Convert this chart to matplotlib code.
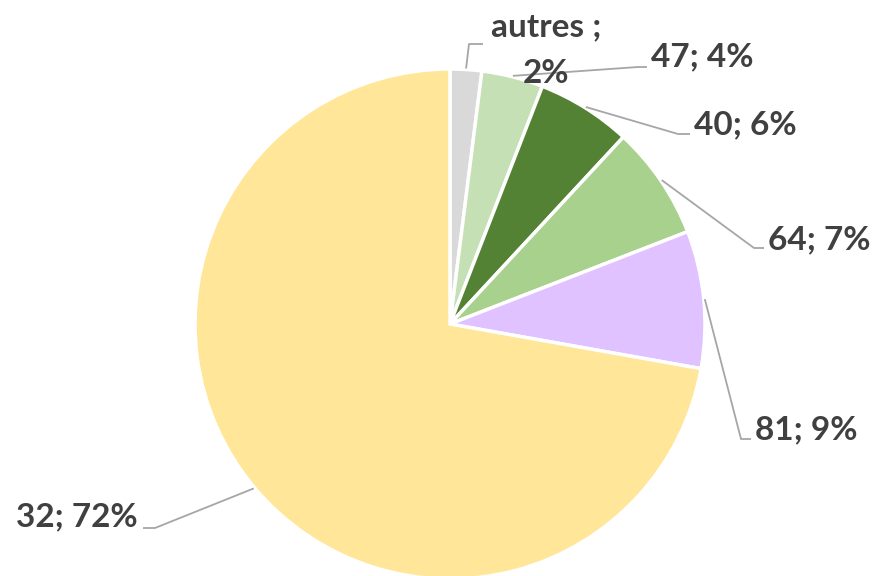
import matplotlib
matplotlib.use("Agg")
import matplotlib.pyplot as plt
import numpy as np

# data (shares) and labels
categories = ["autres", "47", "40", "64", "81", "32"]
shares = [2.0, 3.9, 6.0, 7.2, 8.7, 72.2]
label_texts = ["autres ;\n2%", "47; 4%", "40; 6%", "64; 7%", "81; 9%", "32; 72%"]
colors = ["#D9D9D9", "#C5E0B4", "#548235", "#A9D18E", "#DFC2FF", "#FFE699"]

W, H = 879, 576
fig = plt.figure(figsize=(W / 100, H / 100), dpi=100)
ax = fig.add_axes([0, 0, 1, 1])

cx, cy, R = 450, H - 324, 255
wedges, _ = ax.pie(shares, colors=colors, startangle=90, counterclock=False,
                   center=(cx, cy), radius=R, frame=True,
                   wedgeprops=dict(edgecolor="white", linewidth=2.5))
ax.set_xlim(0, W)
ax.set_ylim(0, H)
ax.set_aspect("equal")
ax.axis("off")

# label layout: (elbow x, elbow y, end x, text x, text y, ha, linespacing)
layout = [
    (469, 44, 483, 546, 50, "center", 1.75),
    (638, 67, 647, 651, 57, "left", 1.2),
    (678, 134, 690, 694, 125, "left", 1.2),
    (754, 248, 764, 768, 240, "left", 1.2),
    (741, 439, 751, 755, 430, "left", 1.2),
    (155, 528, 143, 138, 517, "right", 1.2),
]

for w, txt, (ex, ey, endx, tx, ty, ha, ls) in zip(wedges, label_texts, layout):
    mid = np.deg2rad((w.theta1 + w.theta2) / 2)
    sx = cx + (R + 1) * np.cos(mid)
    sy = cy + (R + 1) * np.sin(mid)
    ax.plot([sx, ex, endx], [sy, H - ey, H - ey], color="#A6A6A6", lw=1.3,
            solid_capstyle="butt")
    ax.text(tx, H - ty, txt, ha=ha, va="center", fontsize=24, fontweight="bold",
            family=["Lato", "DejaVu Sans"], color="#404040", linespacing=ls)

fig.savefig("out.png", dpi=100)
